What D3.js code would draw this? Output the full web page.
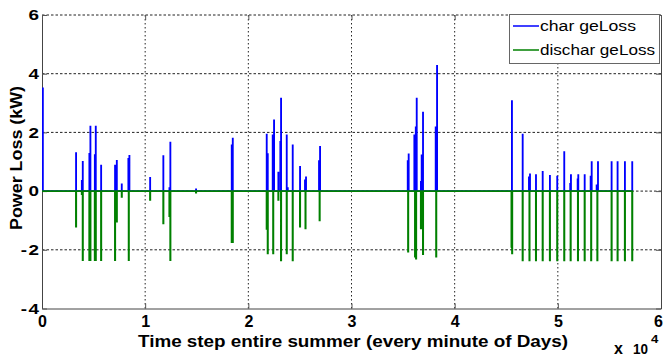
<!DOCTYPE html>
<html>
<head>
<meta charset="utf-8">
<script src="https://cdn.jsdelivr.net/npm/d3@7"></script>
<style>
  body { margin: 0; background: #fff; }
  svg text { font-family: "Liberation Sans", Arial, sans-serif; }
</style>
</head>
<body>
<svg id="chart"></svg>
<script>
// spike events: time step (minutes), power loss (kW)
var chargeTimes = [70, 3290, 3850, 3940, 4580, 4680, 5110, 5200, 5720, 7070, 7240, 7720, 8360, 8460,
  10470, 11750, 12340, 12430, 14920, 18380, 18480, 21770, 21870, 22350, 22480, 22900, 23090, 23160,
  23710, 23810, 24290, 25000, 25480, 25580, 26840, 26940, 35440, 35530, 36080, 36220, 36310, 36720,
  36790, 36920, 38150, 38280, 45540, 46580, 47190, 47290, 47870, 48520, 49220, 49930, 50610, 51190,
  51260, 51910, 51970, 52590, 53170, 53270, 53750, 53880, 55200, 55780, 56490, 57200];
var chargeVals = [3.5, 1.3, 0.35, 1.0, 1.27, 2.2, 1.23, 2.2, 0.87, 0.87, 1.03, 0.23, 1.1, 1.2,
  0.45, 1.19, 0.1, 1.65, 0.06, 1.56, 1.79, 1.93, 1.26, 1.9, 2.41, 0.63, 1.68, 3.15,
  1.9, 0.1, 1.56, 0.83, 0.37, 0.47, 1.02, 1.51, 1.02, 1.25, 1.9, 2.17, 3.15, 0.32,
  1.22, 2.68, 2.17, 4.27, 3.07, 1.93, 0.47, 0.57, 0.55, 0.66, 0.52, 0.5, 1.33, 0.25,
  0.55, 0.4, 0.55, 0.55, 0.5, 0.99, 0.2, 0.99, 0.99, 0.99, 0.99, 0.99];

var dischargeTimes = [3290, 3850, 3940, 4580, 4680, 5110, 5200, 5720, 7070, 7240, 7720, 8400,
  10470, 11750, 12340, 12430, 14920, 18380, 18480, 21770, 21870, 22400, 22900, 23160, 23710,
  24290, 25000, 25530, 26900, 35480, 36150, 36250, 36720, 36920, 38200, 45500, 45560, 46580,
  47240, 47870, 48520, 49220, 49930, 50610, 51230, 51940, 52590, 53220, 53820, 55200, 55780,
  56490, 57200];
var dischargeVals = [-1.21, -0.1, -2.35, -2.35, -2.35, -2.35, -2.35, -2.35, -2.35, -1.04, -0.2, -2.35,
  -0.3, -1.1, -0.85, -2.35, -0.05, -1.74, -1.74, -1.29, -2.12, -2.12, -0.3, -2.36, -2.12,
  -2.36, -1.21, -1.27, -1.0, -2.06, -2.23, -2.3, -1.27, -2.15, -2.23, -1.9, -2.12, -2.36,
  -2.36, -2.36, -2.36, -2.36, -2.36, -2.36, -2.36, -2.36, -2.36, -2.36, -2.36, -2.36, -2.36,
  -2.36, -2.36];

var lastStep = 57250;
var xTicks = [0, 10000, 20000, 30000, 40000, 50000, 60000];
var yTicks = [-4, -2, 0, 2, 4, 6];
var seriesNames = ["char geLoss", "dischar geLoss"];

var width = 664, height = 356;
var pLeft = 42, pRight = 661, pTop = 15, pBottom = 308.5;

var svg = d3.select("#chart").attr("width", width).attr("height", height);

var x = d3.scaleLinear().domain([0, 60000]).range([pLeft, pRight]);
var y = d3.scaleLinear().domain([-4, 6]).range([pBottom, pTop]);

// text in the picture is drawn wider than the font; stretch it
function stretch(sel, k) {
  sel.each(function() {
    var w = this.getComputedTextLength();
    d3.select(this).attr("textLength", w * k).attr("lengthAdjust", "spacingAndGlyphs");
  });
}
function fitTo(sel, w) {
  sel.attr("textLength", w).attr("lengthAdjust", "spacingAndGlyphs");
}

// grid
svg.append("g").selectAll("line")
  .data(xTicks.slice(1, -1))
  .enter().append("line")
    .attr("x1", function(d) { return x(d); })
    .attr("x2", function(d) { return x(d); })
    .attr("y1", pTop).attr("y2", pBottom)
    .attr("stroke", "#222").attr("stroke-dasharray", "1.5,2.5");
svg.append("g").selectAll("line")
  .data(yTicks.slice(1))
  .enter().append("line")
    .attr("x1", pLeft).attr("x2", pRight)
    .attr("y1", function(d) { return y(d); })
    .attr("y2", function(d) { return y(d); })
    .attr("stroke", "#222").attr("stroke-dasharray", "2.5,2");

// axes, ticks pointing inward
var xAxis = svg.append("g")
  .attr("transform", "translate(0," + pBottom + ")")
  .call(d3.axisBottom(x).tickValues(xTicks).tickSize(-5).tickSizeOuter(0).tickPadding(7.1)
    .tickFormat(function(d) { return d / 10000; }));
var yAxis = svg.append("g")
  .attr("transform", "translate(" + pLeft + ",0)")
  .call(d3.axisLeft(y).tickValues(yTicks).tickSize(-5).tickSizeOuter(0).tickPadding(3)
    .tickFormat(function(d) { return d < 0 ? "-\u200a" + Math.abs(d) : d; }));
svg.append("g")
  .attr("transform", "translate(" + pRight + ",0)")
  .call(d3.axisRight(y).tickValues(yTicks).tickSize(-5).tickSizeOuter(0).tickFormat(""));
svg.append("g")
  .attr("transform", "translate(0," + pTop + ")")
  .call(d3.axisTop(x).tickValues(xTicks).tickSize(-5).tickSizeOuter(0).tickFormat(""))
  .select(".domain").remove();

svg.selectAll(".domain").attr("stroke", "#444");
svg.selectAll(".tick line").attr("stroke", "#555");

xAxis.selectAll("text").attr("font-size", 16).attr("font-weight", "bold").attr("fill", "#000")
  .attr("font-family", "Liberation Sans, Arial, sans-serif")
  .attr("dx", function(d) { return d === 60000 ? -3 : 0; });
yAxis.selectAll("text").attr("font-size", 14.5).attr("font-weight", "bold").attr("fill", "#000")
  .attr("font-family", "Liberation Sans, Arial, sans-serif").call(stretch, 1.3);

// build step series: flat zero with a narrow spike at each event
function spikeSeries(times, vals) {
  var pts = [[0, 0]];
  times.forEach(function(t, i) {
    pts.push([t, 0], [t, vals[i]], [t + 25, vals[i]], [t + 25, 0]);
  });
  pts.push([lastStep, 0]);
  return pts;
}

var line = d3.line()
  .x(function(d) { return x(d[0]); })
  .y(function(d) { return y(d[1]); });

svg.append("clipPath").attr("id", "clip")
  .append("rect").attr("x", pLeft).attr("y", pTop).attr("width", pRight - pLeft).attr("height", pBottom - pTop);

svg.append("path")
  .datum(spikeSeries(chargeTimes, chargeVals))
  .attr("clip-path", "url(#clip)")
  .attr("fill", "none").attr("stroke", "#0000ff").attr("stroke-width", 1.6)
  .attr("d", line);
svg.append("path")
  .datum(spikeSeries(dischargeTimes, dischargeVals))
  .attr("clip-path", "url(#clip)")
  .attr("fill", "none").attr("stroke", "#008000").attr("stroke-width", 1.8)
  .attr("d", line);

// axis titles
svg.append("text")
  .attr("x", 353).attr("y", 346.5)
  .attr("text-anchor", "middle").attr("font-size", 16).attr("font-weight", "bold")
  .text("Time step entire summer (every minute of Days)")
  .call(fitTo, 430);
svg.append("text")
  .attr("transform", "translate(22,158) rotate(-90)")
  .attr("text-anchor", "middle").attr("font-size", 16).attr("font-weight", "bold")
  .text("Power Loss (kW)")
  .call(fitTo, 144);

var expo = svg.append("g").attr("font-weight", "bold");
expo.append("text").attr("x", 614).attr("y", 354).attr("font-size", 16).text("x");
expo.append("text").attr("x", 633).attr("y", 354).attr("font-size", 15).text("10").call(fitTo, 15);
expo.append("text").attr("x", 651).attr("y", 343).attr("font-size", 11).text("4").call(stretch, 1.2);

// legend
var legend = svg.append("g");
legend.append("rect")
  .attr("x", 509.5).attr("y", 14.5).attr("width", 150).attr("height", 49)
  .attr("fill", "#fff").attr("stroke", "#666");
var colors = ["#0000ff", "#008000"];
var legendWidths = [96, 115];
seriesNames.forEach(function(name, i) {
  var ly = 26 + i * 24;
  legend.append("line")
    .attr("x1", 513).attr("x2", 539).attr("y1", ly).attr("y2", ly)
    .attr("stroke", colors[i]).attr("stroke-width", 1.5);
  legend.append("text")
    .attr("x", 540).attr("y", ly + 5)
    .attr("font-size", 14)
    .text(name)
    .call(fitTo, legendWidths[i]);
});
</script>
</body>
</html>
